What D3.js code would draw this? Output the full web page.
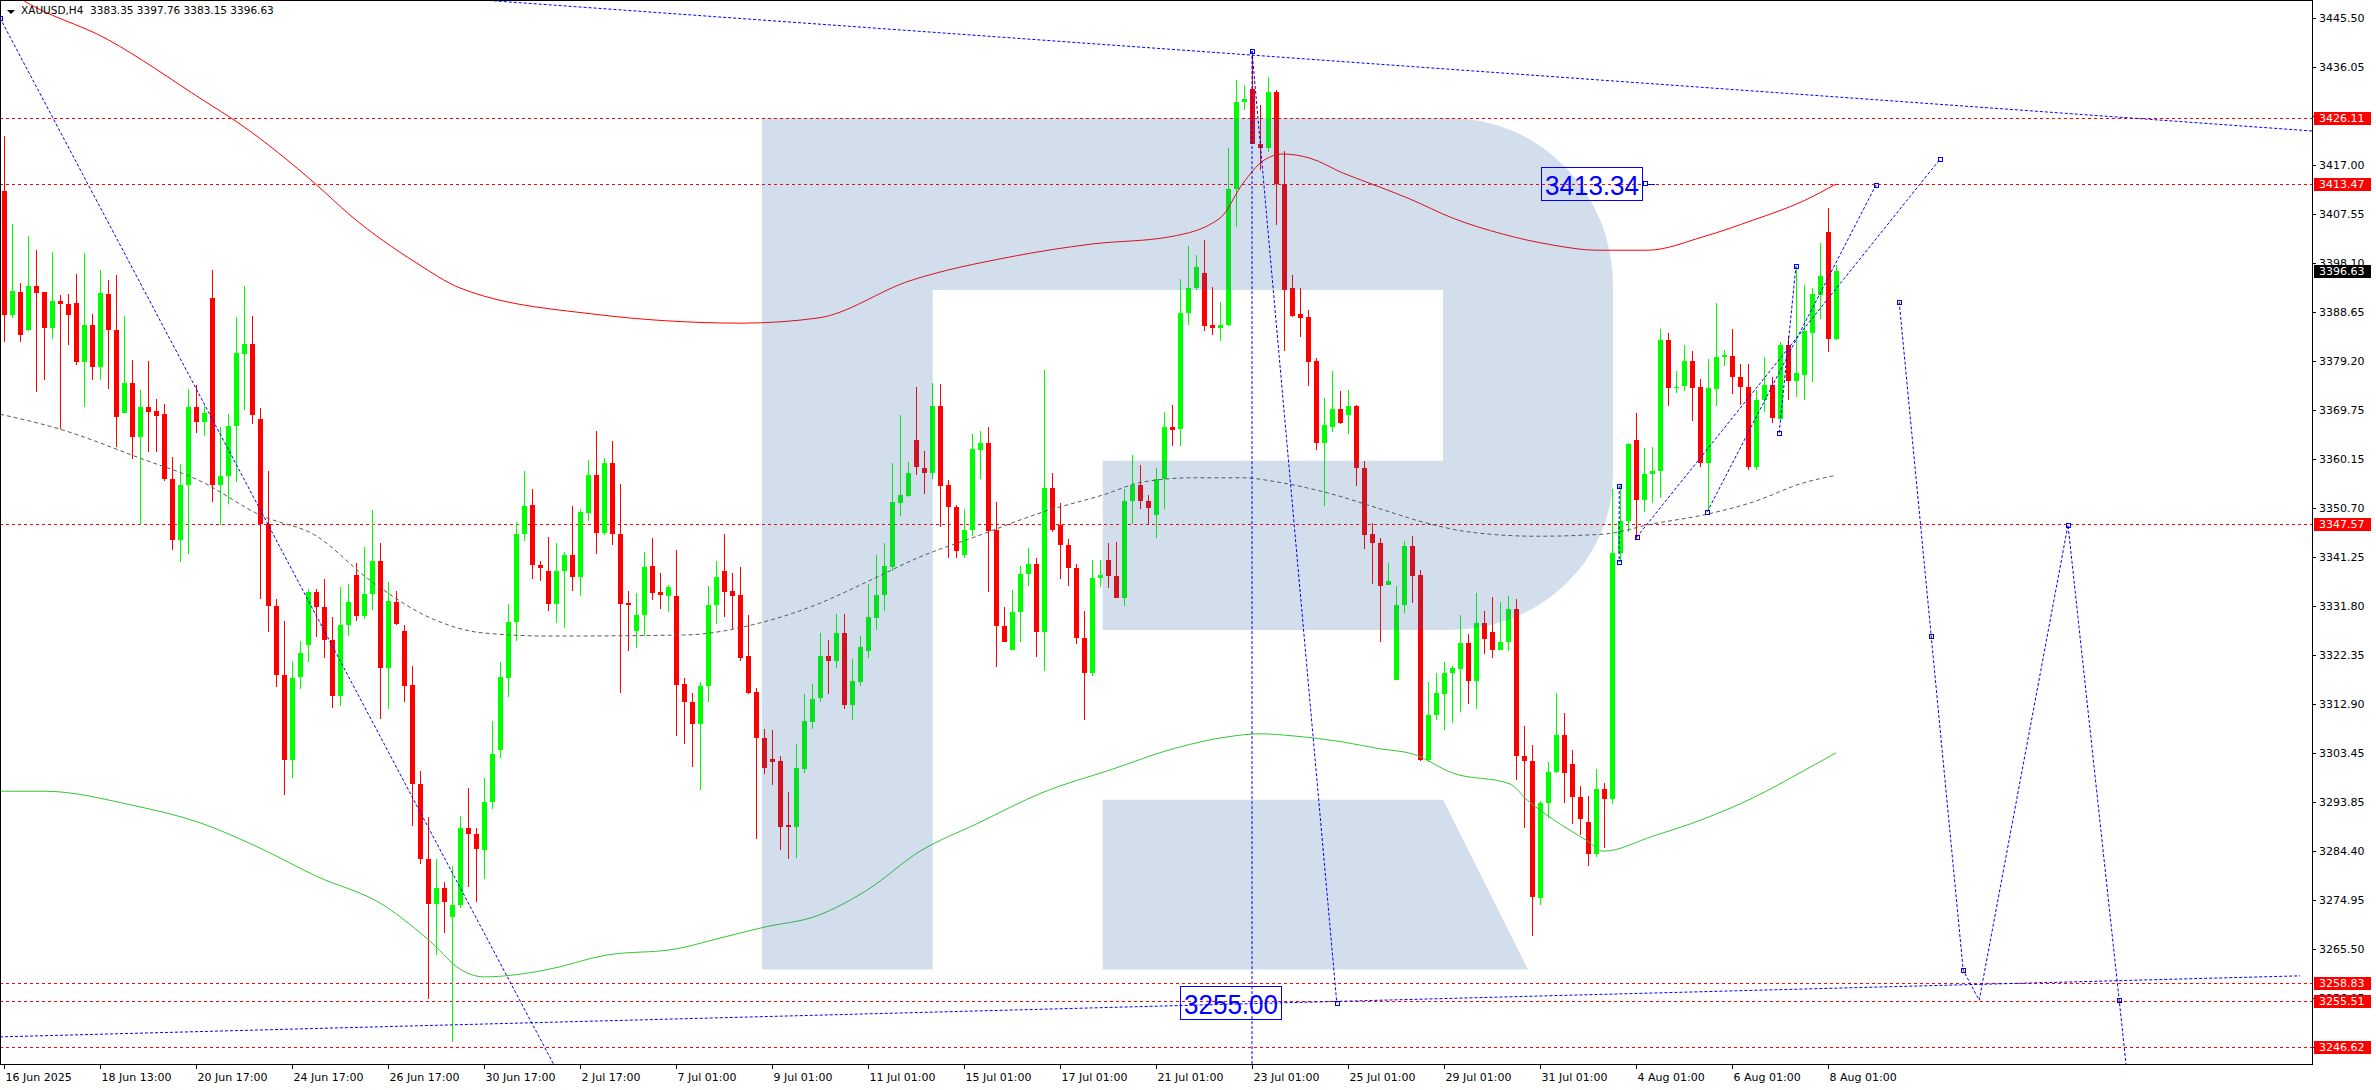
<!DOCTYPE html>
<html><head><meta charset="utf-8">
<script src="https://cdn.jsdelivr.net/npm/d3@7"></script>
<style>body{margin:0;background:#fff;overflow:hidden}svg{display:block}</style>
</head><body>
<svg id="chart" width="2376" height="1090"></svg>
<script>
// ---------- DATA ----------
const symbolTitle = "XAUUSD,H4";
const lastOHLC = ["3383.35", "3397.76", "3383.15", "3396.63"];

const openP = [3412.1,3388.1,3392.5,3385.2,3393.7,3392.5,3385.5,3390.7,3390.2,3390.4,
3379.0,3386.2,3378.1,3392.2,3385.2,3369.1,3375.0,3364.5,3370.3,3369.6,
3369.0,3356.3,3344.6,3355.2,3370.3,3367.4,3391.4,3355.2,3356.9,3366.7,
3380.5,3382.5,3367.9,3347.7,3331.9,3318.5,3302.1,3318.1,3324.3,3334.6,
3331.7,3325.2,3314.4,3328.1,3337.8,3329.9,3334.1,3340.5,3319.9,3332.5,
3327.0,3316.5,3297.4,3282.8,3274.2,3277.3,3271.6,3274.0,3288.9,3287.8,
3284.7,3293.9,3303.9,3317.8,3328.7,3345.7,3351.4,3339.8,3338.6,3332.2,
3338.6,3341.7,3337.4,3349.7,3357.1,3345.9,3359.4,3345.7,3332.3,3326.9,
3330.0,3339.6,3334.6,3333.7,3333.7,3316.7,3313.3,3308.9,3316.3,3332.0,
3338.5,3334.8,3334.0,3322.1,3315.2,3306.3,3302.2,3301.9,3289.5,3289.1,
3300.2,3309.3,3314.1,3322.2,3321.1,3326.5,3312.6,3317.2,3323.1,3329.5,
3333.9,3339.4,3351.8,3353.1,3364.0,3358.5,3357.5,3370.4,3355.3,3350.9,
3341.6,3346.5,3362.0,3363.3,3346.6,3328.0,3323.3,3330.7,3338.0,3339.9,
3326.7,3354.6,3347.4,3343.7,3339.2,3325.7,3318.9,3337.3,3340.8,3337.6,
3333.3,3352.2,3355.3,3352.2,3349.5,3356.4,3366.5,3366.0,3388.5,3393.3,
3396.2,3386.1,3385.6,3386.1,3412.4,3429.3,3431.7,3421.1,3420.3,3431.2,
3413.4,3393.3,3388.2,3387.7,3379.2,3363.3,3366.5,3369.9,3368.8,3370.4,
3358.5,3345.8,3343.9,3335.8,3317.5,3332.0,3343.5,3337.9,3302.1,3310.7,
3314.7,3318.8,3319.7,3324.6,3317.3,3328.5,3326.7,3323.3,3324.8,3331.2,
3302.9,3301.8,3275.4,3293.7,3299.7,3306.8,3301.2,3294.9,3290.0,3283.8,
3296.5,3294.5,3342.1,3348.2,3363.9,3352.4,3357.4,3357.9,3383.3,3374.0,
3374.4,3379.1,3374.2,3359.5,3373.7,3380.0,3380.2,3376.0,3374.2,3358.7,
3371.6,3374.6,3367.9,3382.2,3375.4,3376.5,3384.6,3392.0,3404.1,3383.35];

const highP = [3422.6,3405.7,3394.2,3403.3,3400.6,3392.6,3400.2,3392.0,3392.2,3396.0,
3400.0,3388.3,3396.8,3394.8,3395.8,3387.9,3379.3,3373.5,3379.1,3371.8,
3370.8,3360.6,3359.2,3373.7,3374.6,3370.5,3396.7,3366.4,3369.0,3387.7,
3393.6,3387.9,3370.0,3358.0,3333.1,3329.0,3321.2,3325.1,3335.1,3335.1,
3337.0,3329.6,3335.4,3336.0,3340.1,3343.3,3350.3,3344.0,3336.4,3334.8,
3328.2,3320.2,3300.0,3291.0,3282.8,3278.4,3281.6,3291.3,3296.7,3288.9,
3298.5,3309.5,3320.9,3332.2,3348.1,3357.9,3354.5,3340.5,3345.1,3343.9,
3342.3,3351.2,3350.6,3360.1,3365.7,3360.5,3363.8,3355.4,3334.8,3334.4,
3342.3,3345.0,3338.1,3335.9,3342.7,3317.8,3315.0,3317.2,3335.7,3340.5,
3345.7,3338.1,3339.4,3330.0,3315.9,3308.1,3307.9,3302.8,3295.9,3305.2,
3314.7,3316.8,3326.5,3325.2,3330.3,3330.3,3321.6,3326.1,3336.1,3341.6,
3343.9,3359.4,3368.8,3359.7,3374.1,3361.7,3374.9,3374.7,3356.2,3351.3,
3350.6,3365.1,3365.7,3366.5,3351.9,3331.7,3334.9,3339.6,3343.1,3341.0,
3377.4,3357.5,3351.8,3344.7,3339.9,3330.9,3340.8,3340.7,3344.0,3344.2,
3354.5,3361.0,3359.1,3353.2,3358.5,3369.4,3370.7,3395.1,3401.5,3399.6,
3402.5,3393.5,3390.6,3420.3,3433.6,3432.6,3439.1,3428.7,3434.0,3431.5,
3419.7,3395.9,3393.3,3389.0,3379.7,3372.0,3377.3,3373.4,3373.6,3370.7,
3359.9,3347.9,3344.9,3340.1,3335.6,3344.3,3345.3,3338.8,3317.1,3318.8,
3320.9,3320.2,3330.1,3326.4,3334.3,3330.9,3333.5,3332.5,3333.8,3333.2,
3308.6,3304.9,3294.2,3301.6,3314.9,3311.2,3303.9,3297.1,3295.1,3300.3,
3297.6,3354.5,3355.2,3363.4,3369.2,3362.3,3362.6,3385.4,3384.6,3377.2,
3382.2,3381.2,3375.7,3379.6,3390.4,3381.4,3385.4,3378.6,3378.6,3373.6,
3379.9,3376.0,3382.8,3384.1,3397.4,3393.8,3393.3,3401.9,3408.8,3397.76];

const lowP = [3382.8,3387.5,3382.8,3385.0,3373.1,3375.6,3383.4,3366.1,3382.3,3378.4,
3370.3,3375.5,3375.6,3373.7,3362.5,3369.1,3360.2,3347.5,3361.5,3361.5,
3356.0,3342.7,3340.3,3341.9,3365.3,3364.7,3351.9,3347.4,3351.6,3355.7,
3369.7,3367.0,3333.1,3326.7,3316.1,3295.3,3298.6,3315.8,3321.0,3325.8,
3321.7,3312.0,3312.4,3326.1,3329.0,3329.2,3331.1,3310.0,3311.8,3328.1,
3313.2,3289.2,3282.0,3255.8,3264.3,3268.5,3247.6,3273.5,3277.4,3274.5,
3279.1,3292.6,3302.4,3314.3,3325.0,3344.4,3337.0,3336.6,3330.9,3328.5,
3327.5,3334.8,3333.8,3348.3,3341.8,3345.5,3343.7,3315.0,3323.1,3323.7,
3326.1,3332.9,3331.3,3330.7,3306.7,3305.2,3300.6,3296.3,3313.2,3328.3,
3329.6,3327.4,3321.1,3314.7,3286.8,3299.3,3297.2,3284.7,3282.8,3283.1,
3299.6,3308.0,3313.2,3314.7,3319.8,3311.8,3309.8,3316.3,3321.7,3327.2,
3330.9,3338.5,3349.2,3352.9,3357.1,3353.4,3356.4,3347.1,3341.0,3341.0,
3341.0,3345.3,3356.4,3334.5,3320.1,3324.8,3323.3,3324.8,3335.7,3321.9,
3319.3,3346.1,3337.0,3335.7,3324.4,3309.7,3318.2,3335.5,3335.2,3333.3,
3331.8,3347.7,3350.6,3347.7,3344.9,3350.6,3362.8,3362.8,3386.1,3393.0,
3385.0,3384.3,3383.1,3385.9,3405.0,3427.7,3421.1,3416.1,3419.5,3405.4,
3381.1,3387.7,3383.8,3374.4,3361.9,3351.1,3365.4,3367.0,3365.1,3355.1,
3342.8,3336.0,3324.8,3335.8,3317.5,3330.4,3332.3,3301.8,3301.6,3309.7,
3307.8,3309.1,3311.3,3312.9,3311.8,3322.5,3321.7,3323.3,3323.1,3298.2,
3288.8,3268.0,3274.0,3290.9,3299.5,3293.7,3289.7,3287.6,3281.6,3283.2,
3285.1,3293.5,3340.3,3346.1,3344.7,3350.0,3351.7,3352.7,3370.5,3373.0,
3373.3,3367.6,3358.7,3350.3,3370.5,3378.3,3372.8,3370.7,3358.1,3358.1,
3369.4,3367.1,3367.6,3371.6,3372.3,3371.6,3375.2,3387.3,3381.0,3383.15];

const closeP = [3388.1,3392.8,3384.3,3393.7,3392.4,3385.5,3390.7,3390.2,3388.0,3379.0,
3386.2,3378.1,3392.3,3385.2,3368.3,3375.0,3364.5,3370.3,3369.4,3368.6,
3356.3,3344.6,3355.2,3370.3,3367.4,3369.1,3355.2,3356.9,3366.7,3380.7,
3382.5,3368.7,3347.7,3331.9,3318.5,3302.1,3317.9,3322.8,3334.6,3331.7,
3325.2,3314.4,3328.1,3332.5,3329.8,3334.1,3340.5,3319.9,3332.7,3328.4,
3316.3,3297.4,3282.8,3274.2,3277.3,3274.6,3274.0,3288.9,3287.8,3284.8,
3293.9,3303.2,3318.0,3328.7,3345.7,3351.2,3339.7,3339.2,3332.2,3338.6,
3341.7,3337.4,3349.9,3357.2,3345.9,3359.4,3345.7,3332.2,3332.1,3330.1,
3339.4,3334.4,3333.9,3335.5,3316.5,3313.3,3308.9,3316.4,3332.1,3337.5,
3334.6,3333.8,3321.8,3315.0,3306.2,3300.4,3301.7,3289.1,3289.1,3300.4,
3309.5,3313.9,3322.2,3321.1,3326.5,3312.6,3317.4,3323.9,3329.6,3334.0,
3339.6,3352.0,3353.3,3357.6,3358.6,3357.5,3370.4,3355.1,3350.9,3342.4,
3346.5,3362.2,3363.3,3346.3,3328.0,3324.8,3330.7,3338.0,3339.9,3326.7,
3354.6,3346.6,3343.7,3339.2,3325.7,3318.9,3337.3,3337.8,3337.6,3333.3,
3352.2,3355.3,3352.2,3350.8,3356.4,3366.5,3365.9,3388.5,3393.3,3397.3,
3385.9,3385.6,3386.1,3412.4,3429.3,3429.8,3421.1,3420.4,3431.2,3413.4,
3393.0,3387.9,3387.5,3379.0,3363.3,3366.8,3369.9,3367.2,3370.4,3358.5,
3345.6,3343.9,3335.7,3336.7,3332.0,3343.5,3337.7,3302.1,3310.7,3314.9,
3318.8,3319.9,3324.6,3317.3,3328.5,3325.4,3323.3,3324.8,3331.2,3302.9,
3301.8,3275.6,3293.7,3299.7,3306.8,3299.5,3294.9,3290.6,3283.8,3296.5,
3294.5,3342.1,3348.2,3363.2,3352.4,3357.4,3357.9,3383.3,3373.9,3374.1,
3379.1,3373.9,3359.5,3373.9,3380.0,3380.4,3376.0,3374.1,3358.7,3371.6,
3374.6,3368.1,3382.2,3375.4,3376.8,3384.9,3392.2,3395.7,3383.5,3396.63];

// x-axis labels (bar index, text)
const timeLabelIndex = [0,12,24,36,48,60,72,84,96,108,120,132,144,156,168,180,192,204,216,228];
const timeLabels = ["16 Jun 2025","18 Jun 13:00","20 Jun 17:00","24 Jun 17:00","26 Jun 17:00","30 Jun 17:00",
  "2 Jul 17:00","7 Jul 01:00","9 Jul 01:00","11 Jul 01:00","15 Jul 01:00","17 Jul 01:00","21 Jul 01:00",
  "23 Jul 01:00","25 Jul 01:00","29 Jul 01:00","31 Jul 01:00","4 Aug 01:00","6 Aug 01:00","8 Aug 01:00"];

// price-axis tick labels
const priceTicks = ["3445.50","3436.05","3426.60","3417.00","3407.55","3398.10","3388.65","3379.20","3369.75",
  "3360.15","3350.70","3341.25","3331.80","3322.35","3312.90","3303.45","3293.85","3284.40","3274.95",
  "3265.50","3256.05","3246.60"];

// horizontal levels (red dashed, red price tags)
const levels = [3426.11, 3413.47, 3347.57, 3258.83, 3255.51, 3246.62];
const lastPrice = 3396.63;

// moving averages, read at sample bars: [bar index, price]
const maSlow = [[-0.5,3452.0],[2,3449.3],[12.9,3441.4],[24.9,3429.6],[29.5,3425.0],[39.1,3413.2],[43.25,3407.4],
  [51.6,3398.1],[57,3393.3],[73.4,3388.3],[92.25,3386.5],[101.75,3387.5],[113.25,3394.7],[125.75,3399.3],
  [136,3401.8],[145.75,3403.2],[152,3406.8],[154.9,3413.6],[157.4,3417.9],[159.9,3419.2],[163.25,3418.4],
  [167.4,3415.5],[172,3412.8],[175.75,3410.5],[181.1,3406.8],[187.4,3403.7],[193.6,3401.6],[199.1,3400.6],
  [205.4,3400.6],[212.4,3403.2],[218.6,3406.4],[224.9,3410.1],[229,3413.4]];
const maMid = [[-0.5,3368.9],[7,3366.0],[17,3360.4],[24.5,3356.0],[32,3349.4],[39.1,3345.3],[45.4,3337.2],
  [53.6,3329.3],[59.9,3326.6],[68.25,3326.0],[84.9,3326.2],[94.9,3328.7],[101.6,3332.1],[107.9,3336.5],
  [114.5,3341.3],[121.6,3345.3],[129.9,3350.0],[137.4,3353.3],[142.4,3355.8],[148.6,3356.6],[154.9,3356.6],
  [159.1,3355.8],[165.4,3353.7],[172,3350.6],[177,3348.2],[183.25,3346.1],[191.6,3345.3],[199.9,3345.7],
  [206.1,3347.7],[212.4,3349.4],[218.6,3351.9],[224.9,3355.6],[229,3357.1]];
const maFast = [[-0.5,3296.0],[5,3296.0],[16,3293.3],[24.5,3289.9],[32,3285.0],[39,3279.6],[47.4,3274.0],
  [53.6,3266.5],[57,3261.6],[60,3260.1],[67.6,3261.4],[75.25,3264.3],[84,3265.5],[89,3267.4],[95,3269.7],
  [101.6,3271.9],[107.9,3276.9],[114.5,3284.4],[121.6,3289.7],[129.9,3295.8],[138.25,3300.1],[146.6,3304.4],
  [152.9,3306.5],[157,3307.1],[161.1,3306.7],[167.4,3305.5],[172,3304.2],[176.1,3303.2],[181.1,3299.5],
  [188.25,3297.4],[190.4,3294.3],[193.6,3290.6],[197.9,3286.4],[199.9,3284.4],[206.1,3287.3],[212.4,3290.6],
  [218.6,3294.7],[224.9,3299.9],[229,3303.4]];

// analyst drawings, anchors as [bar index, price]
const trendTop = [[50,3450.06],[289,3423.6]];
const trendBottom = [[-0.5,3248.5],[287,3260.3]];
const trendLeft = [[-0.5,3445.5],[69.8,3240.0]];
const peakDrop = [[156,3439.1],[166.6,3255.05]];
const peakVertical = [[156,3439.1],[156,3238.0]];
const channelA = [[204.1,3345.15],[242,3418.2]];
const channelB = [[212.9,3350.0],[234,3413.2]];
const segA = [[201.9,3355.0],[201.9,3340.3]];
const segB = [[221.9,3365.3],[224,3397.55]];
const forecast = [[236.9,3390.6],[240.9,3326.0],[244.9,3261.4],[246.9,3255.6],[258,3347.5],[264.4,3255.6],[266.5,3225.0]];
const priceNotes = [{text:"3413.34", bar:204.9, price:3413.34}, {text:"3255.00", bar:159.75, price:3255.00}];

// ---------- LAYOUT ----------
const W = 2376, H = 1090;
const plotR = 2312, plotB = 1064;
const svg = d3.select("#chart");
const x = d3.scaleLinear().domain([0, 229]).range([4, 1836]);
const y = d3.scaleLinear().domain([3246.62, 3445.50]).range([1046.6, 18]);

svg.append("rect").attr("width", W).attr("height", H).attr("fill", "#fff");
svg.append("defs").append("clipPath").attr("id", "clip")
  .append("rect").attr("x", 0).attr("y", 0).attr("width", plotR).attr("height", plotB);
const plot = svg.append("g").attr("clip-path", "url(#clip)");

// red level lines
plot.selectAll("line.lvl").data(levels).join("line")
  .attr("x1", 0).attr("x2", plotR)
  .attr("y1", d => Math.round(y(d)) + 0.5).attr("y2", d => Math.round(y(d)) + 0.5)
  .attr("stroke", "#ff0000").attr("stroke-width", 1).attr("stroke-dasharray", "3,3");

// candles
const bars = d3.range(openP.length);
const cg = plot.append("g").attr("shape-rendering", "crispEdges");
bars.forEach(i => {
  const cx = Math.round(x(i));
  const up = closeP[i] >= openP[i];
  const col = up ? "#00ff00" : "#ff0000";
  const yh = Math.round(y(highP[i])), yl = Math.round(y(lowP[i]));
  cg.append("rect").attr("x", cx).attr("y", yh).attr("width", 1).attr("height", Math.max(1, yl - yh)).attr("fill", col);
  const yt = Math.round(y(Math.max(openP[i], closeP[i]))), yb = Math.round(y(Math.min(openP[i], closeP[i])));
  cg.append("rect").attr("x", cx - 2).attr("y", yt).attr("width", 5).attr("height", Math.max(1, yb - yt)).attr("fill", col);
});

// moving averages
const maLine = d3.line().x(d => x(d[0])).y(d => y(d[1])).curve(d3.curveMonotoneX);
plot.append("path").attr("d", maLine(maSlow)).attr("fill", "none").attr("stroke", "#ff0000").attr("stroke-width", 1);
plot.append("path").attr("d", maLine(maMid)).attr("fill", "none").attr("stroke", "#5a5a5a").attr("stroke-width", 1).attr("stroke-dasharray", "4,3");
plot.append("path").attr("d", maLine(maFast)).attr("fill", "none").attr("stroke", "#33c833").attr("stroke-width", 1);

// watermark logo (semi-transparent overlay)
const L = 762, T = 118, B = 969.5, S = 170.7;
const stemR = L + S, barB = T + 172, holeR = 1443, midT = 460.7, midL = 1102.7, bowlB = 630, bowlR = 1613, arcX = 1450, legT = 799.7;
const logo = `M${L},${T} H${arcX} A${bowlR-arcX},167 0 0 1 ${bowlR},285 V475 A${bowlR-arcX},155 0 0 1 ${arcX},${bowlB} H${midL} V${midT} H${holeR} V${barB} H${stemR} V${B} H${L} Z ` +
  `M${midL},${legT} H${holeR} L1528,${B} H${midL} Z`;
plot.append("path").attr("d", logo).attr("fill", "rgb(40,95,165)").attr("fill-opacity", 0.205);

// blue drawings
const seg = d3.line().x(d => x(d[0])).y(d => y(d[1]));
const blue = "#0000ff";
[trendTop, trendBottom, trendLeft, peakDrop, peakVertical, channelA, channelB, segA, segB, forecast].forEach(pts => {
  plot.append("path").attr("d", seg(pts)).attr("fill", "none").attr("stroke", blue)
    .attr("stroke-width", 1).attr("stroke-dasharray", "3,2");
});
// handles
const handles = [peakDrop[0], peakDrop[1], channelA[0], channelA[1], channelB[0], channelB[1], segA[0], segA[1],
  segB[0], segB[1], forecast[0], forecast[1], forecast[2], forecast[4], forecast[5], trendLeft[0]];
plot.selectAll("rect.h").data(handles).join("rect")
  .attr("x", d => Math.round(x(d[0])) - 2 + 0.5).attr("y", d => Math.round(y(d[1])) - 2 + 0.5)
  .attr("width", 4).attr("height", 4).attr("fill", "none").attr("stroke", blue).attr("stroke-width", 1);

// price notes (boxed)
priceNotes.forEach(n => {
  const ax = Math.round(x(n.bar)), ay = Math.round(y(n.price));
  const g = plot.append("g");
  g.append("rect").attr("x", ax - 101.5).attr("y", ay - 16.5).attr("width", 101).attr("height", 33)
    .attr("fill", "none").attr("stroke", blue).attr("stroke-width", 1);
  g.append("text").attr("x", ax - 51).attr("y", ay + 1).attr("text-anchor", "middle").attr("dominant-baseline", "central")
    .attr("font-family", "Liberation Sans, Arial, sans-serif").attr("font-size", 28)
    .attr("textLength", 94).attr("lengthAdjust", "spacingAndGlyphs").attr("fill", blue).text(n.text);
});
{
  const n = priceNotes[0];
  const ax = Math.round(x(n.bar)), ay = Math.round(y(n.price));
  plot.append("rect").attr("x", ax + 0.5).attr("y", ay - 2.5).attr("width", 4).attr("height", 4).attr("fill", "#fff").attr("stroke", blue);
  plot.append("line").attr("x1", ax + 5).attr("x2", ax + 12).attr("y1", ay + 0.5).attr("y2", ay + 0.5).attr("stroke", blue);
}

// frame
svg.append("rect").attr("x", 0.5).attr("y", 0.5).attr("width", plotR).attr("height", plotB)
  .attr("fill", "none").attr("stroke", "#000").attr("stroke-width", 1).attr("shape-rendering", "crispEdges");

// price axis
const axisFont = "DejaVu Sans, Tahoma, sans-serif";
const pa = svg.append("g");
priceTicks.forEach(t => {
  const yy = Math.round(y(+t)) + 0.5;
  pa.append("line").attr("x1", plotR).attr("x2", plotR + 4).attr("y1", yy).attr("y2", yy).attr("stroke", "#000");
  pa.append("text").attr("x", plotR + 7).attr("y", yy).attr("dy", "0.36em").attr("font-family", axisFont)
    .attr("font-size", 11).attr("fill", "#000").text(t);
});
const tags = levels.map(v => ({v, bg: "#ff0000"})).concat([{v: lastPrice, bg: "#000"}]);
tags.forEach(tg => {
  const yy = y(tg.v);
  pa.append("rect").attr("x", plotR + 2).attr("y", Math.round(yy) - 6).attr("width", 57).attr("height", 13).attr("fill", tg.bg);
  pa.append("text").attr("x", plotR + 7).attr("y", Math.round(yy) + 0.5).attr("dy", "0.36em").attr("font-family", axisFont)
    .attr("font-size", 11).attr("fill", "#fff").text(tg.v.toFixed(2));
});

// time axis
const ta = svg.append("g");
timeLabelIndex.forEach((bi, k) => {
  const xx = Math.round(x(bi)) + 0.5;
  ta.append("line").attr("x1", xx).attr("x2", xx).attr("y1", plotB).attr("y2", plotB + 5).attr("stroke", "#000");
  ta.append("text").attr("x", xx + 1).attr("y", plotB + 17).attr("font-family", axisFont).attr("font-size", 11)
    .attr("fill", "#000").text(timeLabels[k]);
});

// header
svg.append("path").attr("d", "M7,10 L15,10 L11,14 Z").attr("fill", "#000");
svg.append("text").attr("x", 21).attr("y", 14).attr("font-family", axisFont).attr("font-size", 10.5).attr("fill", "#000")
  .attr("xml:space", "preserve")
  .text(symbolTitle + "  " + lastOHLC.join(" "));
</script>
</body></html>
